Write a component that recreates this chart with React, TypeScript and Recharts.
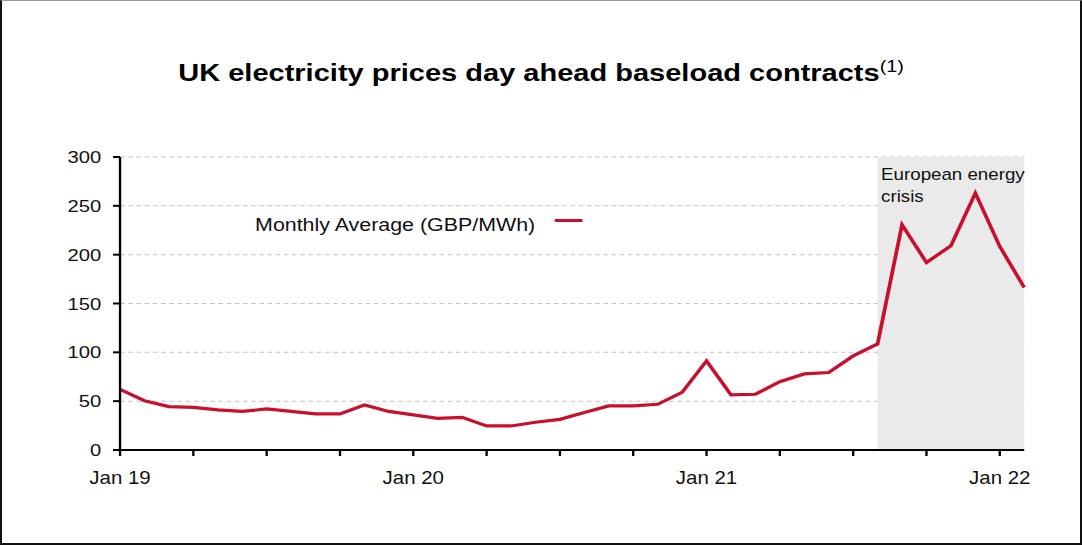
import { CartesianGrid, Legend, Line, LineChart, ReferenceArea, XAxis, YAxis } from 'recharts';

// monthly average day-ahead baseload, GBP/MWh
const months = [
  'Jan 19', 'Feb 19', 'Mar 19', 'Apr 19', 'May 19', 'Jun 19', 'Jul 19', 'Aug 19', 'Sep 19', 'Oct 19', 'Nov 19', 'Dec 19',
  'Jan 20', 'Feb 20', 'Mar 20', 'Apr 20', 'May 20', 'Jun 20', 'Jul 20', 'Aug 20', 'Sep 20', 'Oct 20', 'Nov 20', 'Dec 20',
  'Jan 21', 'Feb 21', 'Mar 21', 'Apr 21', 'May 21', 'Jun 21', 'Jul 21', 'Aug 21', 'Sep 21', 'Oct 21', 'Nov 21', 'Dec 21',
  'Jan 22', 'Feb 22',
];
const prices = [
  62, 50.5, 44.5, 43.7, 41, 39.5, 42, 39.5, 37, 37, 46, 39.5,
  36, 32.4, 33.5, 24.6, 24.6, 28.4, 31.4, 38.3, 45.1, 45.1, 46.8, 59.1,
  91.2, 56.4, 57.1, 70, 77.9, 79.3, 96.3, 108.6, 230.6, 192, 209.1, 263.1,
  208.4, 166.4,
];
const yearLabels = ['Jan 19', 'Jan 20', 'Jan 21', 'Jan 22'];
const quarterTicks = [0, 3, 6, 9, 12, 15, 18, 21, 24, 27, 30, 33, 36];
const priceTicks = [0, 50, 100, 150, 200, 250, 300];
const crisisStart = 'Aug 21';

const rows = prices.map((price, idx) => ({ idx, month: months[idx], price }));
const crisisIdx = months.indexOf(crisisStart);

const RED = '#C8102E';
const FONT = '"Liberation Sans", Arial, sans-serif';
const STRETCH = 1.17;
const W = 925;
const H = 545;

function CrisisLabel({ viewBox }: any) {
  if (!viewBox) return null;
  const x = viewBox.x + 3;
  return (
    <text x={x} y={viewBox.y + 23.5} fontSize={16} fill="#111" fontFamily={FONT}>
      <tspan x={x}>European energy</tspan>
      <tspan x={x} dy={21.5}>crisis</tspan>
    </text>
  );
}

function SeriesKey() {
  return (
    <div style={{ display: 'flex', alignItems: 'flex-start', fontFamily: FONT, whiteSpace: 'nowrap' }}>
      <span style={{ fontSize: 18.3, lineHeight: 1, color: '#111' }}>Monthly Average (GBP/MWh)</span>
      <span style={{ display: 'inline-block', width: 24, height: 3, background: RED, marginLeft: 17, marginTop: 3, borderRadius: 1 }} />
    </div>
  );
}

export default function App() {
  return (
    <div style={{ position: 'absolute', left: 0, top: 0, width: 1082, height: H, background: '#fff', overflow: 'hidden' }}>
      <div style={{ position: 'absolute', left: 0, top: 0, width: W, height: H, transform: `scaleX(${STRETCH})`, transformOrigin: '0 0' }}>
        <div style={{ position: 'absolute', left: 0, top: 60.5, width: W, textAlign: 'center', fontFamily: FONT, fontWeight: 'bold', fontSize: 24.8, lineHeight: 1, color: '#000' }}>
          UK electricity prices day ahead baseload contracts
          <span style={{ fontSize: 17, fontWeight: 'normal', verticalAlign: 'super', lineHeight: 0 }}>(1)</span>
        </div>
        <LineChart width={W} height={H} data={rows} margin={{ top: 157, right: 49.6, bottom: 55, left: 0 }}>
          <ReferenceArea x1={crisisIdx} x2={months.length - 1} y1={0} y2={300} fill="#EAEAEA" fillOpacity={1} stroke="none" label={<CrisisLabel />} />
          <CartesianGrid vertical={false} stroke="#C4C4C4" strokeDasharray="4 3" />
          <XAxis
            dataKey="idx"
            type="number"
            domain={[0, months.length - 1]}
            ticks={quarterTicks}
            tickFormatter={(v: number) => (v % 12 === 0 ? yearLabels[v / 12] : '')}
            height={40}
            tickSize={6}
            tickMargin={16}
            axisLine={{ stroke: '#000', strokeWidth: 2 }}
            tickLine={{ stroke: '#000', strokeWidth: 2 }}
            tick={{ fill: '#111', fontSize: 17.5, fontFamily: FONT }}
          />
          <YAxis
            domain={[0, 300]}
            ticks={priceTicks}
            width={102.6}
            tickSize={6}
            tickMargin={10}
            axisLine={{ stroke: '#000', strokeWidth: 2 }}
            tickLine={{ stroke: '#000', strokeWidth: 2 }}
            tick={{ fill: '#111', fontSize: 17.3, fontFamily: FONT }}
          />
          <Legend
            layout="horizontal"
            verticalAlign="middle"
            align="center"
            content={<SeriesKey />}
            wrapperStyle={{ left: 218, top: 216, width: 'auto' }}
          />
          <Line type="linear" dataKey="price" name="Monthly Average (GBP/MWh)" stroke={RED} strokeWidth={3.2} dot={false} isAnimationActive={false} />
        </LineChart>
      </div>
      <div style={{ position: 'absolute', inset: 0, borderLeft: '2px solid #111', borderRight: '2px solid #111', borderBottom: '2px solid #111', borderTop: '1px solid #999', pointerEvents: 'none' }} />
    </div>
  );
}
